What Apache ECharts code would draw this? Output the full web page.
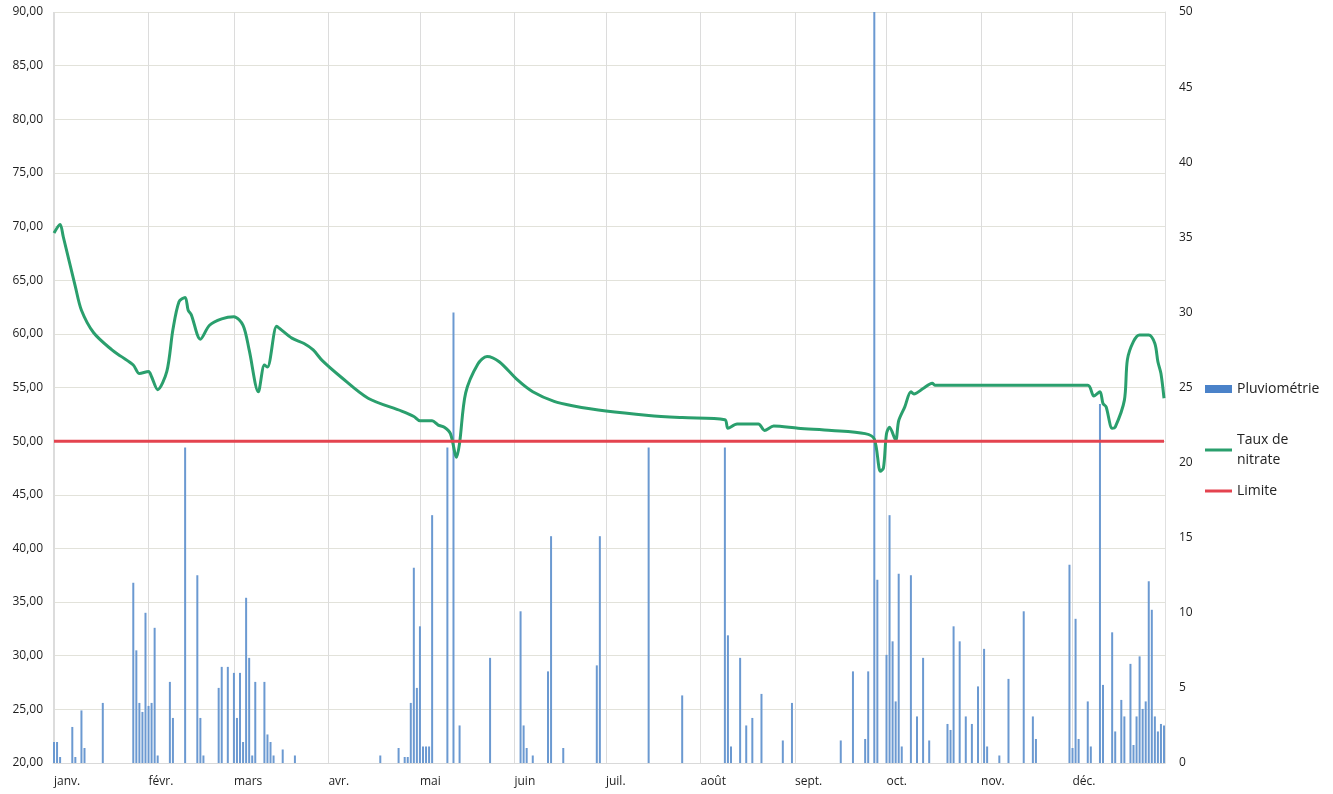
<!DOCTYPE html>
<html>
<head>
<meta charset="utf-8">
<title>Taux de nitrate et pluviométrie</title>
<script src="https://cdn.jsdelivr.net/npm/echarts@6/dist/echarts.min.js"></script>
<style>
    html, body { margin: 0; padding: 0; background: #fff; }
    #main { width: 1333px; height: 794px; }
</style>
</head>
<body>
<div id="main"></div>
<script>
// année de référence (pas affichée)
var year = '2019';
var monthLabels = ['janv.', 'févr.', 'mars', 'avr.', 'mai', 'juin', 'juil.', 'août', 'sept.', 'oct.', 'nov.', 'déc.'];

// pluviométrie, mm par jour (axe de droite)
var rainDates = [
    '01-01', '01-02', '01-03', '01-07', '01-08', '01-10', '01-11', '01-17', '01-27', '01-28', '01-29', '01-30', '01-31',
    '02-01', '02-02', '02-03', '02-04', '02-08', '02-09', '02-13', '02-17', '02-18', '02-19', '02-24', '02-25', '02-27',
    '03-01', '03-02', '03-03', '03-04', '03-05', '03-06', '03-07', '03-08', '03-11', '03-12', '03-13', '03-14', '03-17', '03-21',
    '04-18', '04-24', '04-26', '04-27', '04-28', '04-29', '04-30',
    '05-01', '05-02', '05-03', '05-04', '05-05', '05-10', '05-12', '05-14', '05-24',
    '06-03', '06-04', '06-05', '06-07', '06-12', '06-13', '06-17', '06-28', '06-29',
    '07-15', '07-26',
    '08-09', '08-10', '08-11', '08-14', '08-16', '08-18', '08-21', '08-28', '08-31',
    '09-16', '09-20', '09-24', '09-25', '09-27', '09-28',
    '10-01', '10-02', '10-03', '10-04', '10-05', '10-06', '10-09', '10-11', '10-13', '10-15', '10-21', '10-22', '10-23', '10-25', '10-27', '10-29', '10-31',
    '11-02', '11-03', '11-07', '11-10', '11-15', '11-18', '11-19', '11-30',
    '12-01', '12-02', '12-03', '12-06', '12-07', '12-10', '12-11', '12-14', '12-15', '12-17', '12-18', '12-20', '12-21', '12-22', '12-23', '12-24', '12-25', '12-26', '12-27', '12-28', '12-29', '12-30', '12-31'
];
var rainValues = [
    1.4, 1.4, 0.4, 2.4, 0.4, 3.5, 1.0, 4.0, 12.0, 7.5, 4.0, 3.4, 10.0,
    3.8, 4.0, 9.0, 0.5, 5.4, 3.0, 21.0, 12.5, 3.0, 0.5, 5.0, 6.4, 6.4,
    6.0, 3.0, 6.0, 1.4, 11.0, 7.0, 0.5, 5.4, 5.4, 1.9, 1.4, 0.5, 0.9, 0.5,
    0.5, 1.0, 0.4, 0.4, 4.0, 13.0, 5.0,
    9.1, 1.1, 1.1, 1.1, 16.5, 21.0, 30.0, 2.5, 7.0,
    10.1, 2.5, 1.0, 0.5, 6.1, 15.1, 1.0, 6.5, 15.1,
    21.0, 4.5,
    21.0, 8.5, 1.1, 7.0, 2.5, 3.0, 4.6, 1.5, 4.0,
    1.5, 6.1, 1.6, 6.1, 50.0, 12.2,
    7.2, 16.5, 8.1, 4.1, 12.6, 1.1, 12.5, 3.1, 7.0, 1.5, 2.6, 2.2, 9.1, 8.1, 3.1, 2.6, 5.1,
    7.6, 1.1, 0.5, 5.6, 10.1, 3.1, 1.6, 13.2,
    1.0, 9.6, 1.6, 4.1, 1.1, 23.9, 5.2, 8.7, 2.1, 4.2, 3.1, 6.6, 1.2, 3.1, 7.1, 3.6, 4.1, 12.1, 10.2, 3.1, 2.1, 2.6, 2.5
];

// taux de nitrate, mg/l (axe de gauche)
var nitrateDates = [
    '01-01', '01-03', '01-04', '01-08', '01-10', '01-14', '01-20', '01-23', '01-27', '01-29',
    '02-01', '02-02', '02-04', '02-07', '02-09', '02-11', '02-13', '02-14', '02-15', '02-18', '02-21', '02-25',
    '03-01', '03-04', '03-06', '03-09', '03-11', '03-12', '03-15', '03-16', '03-20', '03-24', '03-27', '03-30',
    '04-05', '04-14', '04-25', '04-29',
    '05-01', '05-05', '05-07', '05-09', '05-11', '05-13', '05-14', '05-16', '05-20', '05-23', '05-27',
    '06-02', '06-07', '06-14', '06-20',
    '07-01', '07-15', '07-26',
    '08-09', '08-10', '08-13', '08-20', '08-22', '08-25',
    '09-02', '09-13', '09-24', '09-27', '09-29', '09-30',
    '10-01', '10-02', '10-04', '10-05', '10-07', '10-09', '10-10', '10-13', '10-16', '10-17',
    '12-06', '12-08', '12-10', '12-11', '12-12', '12-14', '12-15', '12-18', '12-19', '12-21', '12-23', '12-26', '12-28', '12-29', '12-30', '12-31'
];
var nitrateValues = [
    69.4, 70.2, 69.1, 64.4, 62.2, 60.1, 58.5, 57.9, 57.1, 56.3,
    56.5, 56.0, 54.8, 56.5, 60.4, 63.0, 63.4, 62.2, 61.8, 59.5, 60.8, 61.4,
    61.6, 60.8, 58.5, 54.6, 57.1, 56.9, 60.7, 60.5, 59.6, 59.1, 58.5, 57.5,
    56.0, 54.0, 52.8, 52.3,
    51.9, 51.9, 51.5, 51.3, 50.7, 48.5, 49.8, 54.5, 57.2, 57.9, 57.4,
    55.7, 54.6, 53.7, 53.3,
    52.8, 52.4, 52.2,
    52.0, 51.2, 51.6, 51.6, 51.0, 51.4,
    51.2, 51.0, 50.7, 50.2, 47.2, 47.5,
    50.7, 51.3, 50.1, 51.9, 53.2, 54.6, 54.4, 54.9, 55.4, 55.2,
    55.2, 54.2, 54.6, 53.5, 53.2, 51.2, 51.3, 53.8, 57.6, 59.3, 59.9, 59.9, 59.1, 57.4, 56.3, 54.0
];

// limite réglementaire
var limitDates = ['01-01', '12-31'];
var limitValues = [50, 50];

function pairs(dates, values) {
    var out = [];
    for (var i = 0; i < dates.length; i++) {
        out.push([year + '-' + dates[i], values[i]]);
    }
    return out;
}

var DAY = 24 * 3600 * 1000;
var labelFont = 'Open Sans';
var legendText = {
    fontFamily: labelFont,
    fontSize: 14,
    color: '#222',
    lineHeight: 20
};
var lineIcon = 'path://M0,0 H27 V3 H0 Z';

var myChart = echarts.init(document.getElementById('main'));

var option = {
    animation: false,
    backgroundColor: '#fff',
    grid: {
        left: 53,
        right: 168,
        top: 12,
        bottom: 31
    },
    // deux légendes pour garder les écarts inégaux de l'original
    legend: [{
        orient: 'vertical',
        left: 1205,
        top: 379,
        padding: 0,
        itemWidth: 27,
        itemHeight: 8,
        textStyle: legendText,
        data: [{name: 'Pluviométrie', icon: 'rect', itemStyle: {color: '#4a82c9'}}]
    }, {
        orient: 'vertical',
        left: 1205,
        top: 430,
        padding: 0,
        itemWidth: 27,
        itemHeight: 8,
        itemGap: 11,
        textStyle: legendText,
        formatter: function (name) {
            return name === 'Taux de nitrate' ? 'Taux de\nnitrate' : name;
        },
        data: [
            {name: 'Taux de nitrate', icon: lineIcon},
            {name: 'Limite', icon: lineIcon}
        ]
    }],
    xAxis: {
        type: 'time',
        min: year + '-01-01',
        max: year + '-12-31',
        splitNumber: 12,
        minInterval: 28 * DAY,
        maxInterval: 31 * DAY,
        axisLine: {show: true, lineStyle: {color: '#d9d9d9'}},
        axisTick: {show: false},
        axisLabel: {
            align: 'left',
            margin: 13,
            fontFamily: labelFont,
            fontSize: 12,
            color: '#1e1e1e',
            formatter: function (value) {
                return monthLabels[new Date(value).getMonth()];
            }
        },
        splitLine: {show: true, lineStyle: {color: '#dcdcdc', width: 1}}
    },
    yAxis: [{
        type: 'value',
        min: 20,
        max: 90,
        interval: 5,
        axisLine: {show: false},
        axisTick: {show: false},
        axisLabel: {
            margin: 10,
            fontFamily: labelFont,
            fontSize: 12,
            color: '#1e1e1e',
            formatter: function (v) {
                return v.toFixed(2).replace('.', ',');
            }
        },
        splitLine: {show: true, lineStyle: {color: '#e2e2da', width: 1}}
    }, {
        type: 'value',
        min: 0,
        max: 50,
        interval: 5,
        position: 'right',
        axisLine: {show: true, lineStyle: {color: '#e0e0e0'}},
        axisTick: {show: false},
        axisLabel: {
            margin: 14,
            fontFamily: labelFont,
            fontSize: 12,
            color: '#1e1e1e'
        },
        splitLine: {show: false}
    }],
    series: [{
        name: 'Pluviométrie',
        type: 'bar',
        yAxisIndex: 1,
        barWidth: 2,
        itemStyle: {color: '#6b99d1'},
        data: pairs(rainDates, rainValues)
    }, {
        name: 'Taux de nitrate',
        type: 'line',
        yAxisIndex: 0,
        smooth: 0.3,
        showSymbol: false,
        symbol: 'none',
        itemStyle: {color: '#2a9f6d'},
        lineStyle: {color: '#2a9f6d', width: 3},
        data: pairs(nitrateDates, nitrateValues)
    }, {
        name: 'Limite',
        type: 'line',
        yAxisIndex: 0,
        showSymbol: false,
        symbol: 'none',
        itemStyle: {color: '#e4434f'},
        lineStyle: {color: '#e4434f', width: 3},
        data: pairs(limitDates, limitValues)
    }]
};

myChart.setOption(option);
</script>
</body>
</html>
